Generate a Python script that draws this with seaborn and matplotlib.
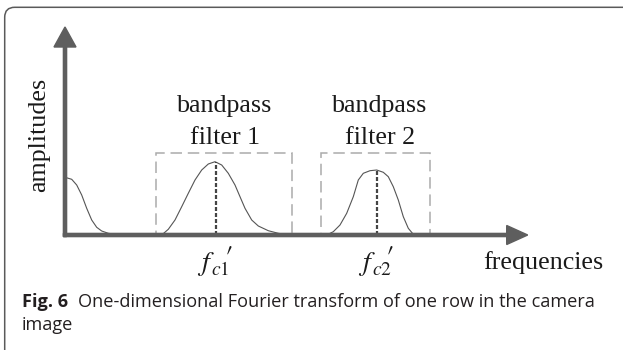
import matplotlib

matplotlib.use("Agg")

import matplotlib.pyplot as plt
import pandas as pd
import seaborn as sns
from matplotlib.patches import FancyBboxPatch, Rectangle
from matplotlib.transforms import IdentityTransform


# spectrum (frequency offset from the amplitude axis, amplitude above baseline)
LOW_FREQ = [0, 6.7, 11.7, 16.7, 21.7, 26.7, 31.7, 36.7, 43.3, 50, 56.7]
LOW_AMP = [57.7, 55.7, 50, 40, 26.7, 15, 7.7, 4, 1.7, 0.7, 0]

PEAK1_FREQ = [96.7, 103.3, 110, 116.7, 123.3, 130, 136.7, 143.3, 150, 156.7,
              163.3, 170, 175, 180, 186.7, 193.3, 203.3, 213.3, 223.3]
PEAK1_AMP = [0, 5.7, 15, 28.3, 41.7, 55, 65, 71, 73.3, 70,
             61.7, 50, 38.3, 26.7, 15, 9, 4.3, 1.7, 0]

PEAK2_FREQ = [261.7, 268.3, 275, 281.7, 288.3, 293.3, 298.3, 305, 311.7,
              318.3, 323.3, 328.3, 333.3, 338.3, 343.3, 348.3, 353.3]
PEAK2_AMP = [0, 3.3, 10, 21.7, 38.3, 55, 61.7, 64.3, 65,
             62.7, 58.3, 48.3, 35, 18.3, 6.7, 0.7, 0]

CENTER_FREQS = [151, 311.7]
CENTER_AMPS = [73.3, 65]
CENTER_SUBS = [r"$c1$", r"$c2$"]

FILTER_LOW = [90.7, 256]
FILTER_HIGH = [227.3, 365]
FILTER_HEIGHT = 81.7
FILTER_LABELS = ["bandpass\nfilter 1", "bandpass\nfilter 2"]
FILTER_LABEL_X = [159.5, 315]

AXIS_GRAY = "#5e5e5e"
TEXT = "#1a1a1a"


def build_spectrum():
    parts = []
    for name, f, a in [("low", LOW_FREQ, LOW_AMP),
                       ("c1", PEAK1_FREQ, PEAK1_AMP),
                       ("c2", PEAK2_FREQ, PEAK2_AMP)]:
        parts.append(pd.DataFrame({"freq": f, "amp": a, "band": name}))
    return pd.concat(parts, ignore_index=True)


def draw(df, output_path="out.png"):
    sns.set_theme(style="white")
    plt.rcParams["font.family"] = ["Liberation Serif", "DejaVu Serif"]
    plt.rcParams["mathtext.fontset"] = "stix"

    fig = plt.figure(figsize=(6.23, 3.5), dpi=100)
    fig.patch.set_facecolor("white")

    # one data unit = one pixel in both directions
    ax = fig.add_axes([65 / 623, 115 / 350, 475 / 623, 215 / 350])

    for lo, hi in zip(FILTER_LOW, FILTER_HIGH):
        ax.add_patch(Rectangle((lo, 0), hi - lo, FILTER_HEIGHT, fill=False,
                               ec="#ababab", lw=1.1, ls=(0, (7.5, 3.8)),
                               zorder=1, clip_on=False))

    sns.lineplot(data=df, x="freq", y="amp", units="band", estimator=None,
                 sort=False, color="#555555", linewidth=0.8, legend=False,
                 ax=ax, zorder=3)
    ax.set_xlim(0, 475)
    ax.set_ylim(0, 215)
    ax.axis("off")

    ax.vlines(CENTER_FREQS, 0, CENTER_AMPS, colors="#444444", lw=1.6,
              linestyles=(0, (1.8, 0.9)), zorder=4)

    ax.arrow(-1.6, 0, 464.3, 0, width=3.2, head_width=19, head_length=21,
             length_includes_head=True, color=AXIS_GRAY, zorder=5, clip_on=False)
    ax.arrow(0, -1.6, 0, 209.6, width=3.2, head_width=22, head_length=20,
             length_includes_head=True, color=AXIS_GRAY, zorder=5, clip_on=False)

    for x, label in zip(FILTER_LABEL_X, FILTER_LABELS):
        top, bottom = label.split("\n")
        ax.text(x, 123.3, top, ha="center", va="baseline", fontsize=18.7, color=TEXT)
        ax.text(x, 91, bottom, ha="center", va="baseline", fontsize=18.7, color=TEXT)

    # f'_c labels set like the equation editor: f, low subscript, prime at the right
    for x, sub in zip(CENTER_FREQS, CENTER_SUBS):
        ax.text(x - 10, -34.5, r"$f$", ha="center", va="baseline",
                fontsize=20, color=TEXT)
        ax.text(x - 5, -40, sub, ha="left", va="baseline",
                fontsize=14, color=TEXT)
        ax.text(x + 12.5, -22.5, r"$\prime$", ha="center", va="center",
                fontsize=22, color=TEXT)

    ax.text(417.7, -34.3, "frequencies", ha="left", va="baseline",
            fontsize=18.7, color=TEXT)
    ax.text(-25.5, 100.5, "amplitudes", ha="center", va="center", rotation=90,
            fontsize=18.7, color=TEXT)

    # panel frame with rounded top-left corner
    frame = FancyBboxPatch((4.7, -40), 700, 382.7,
                           boxstyle="round,pad=0,rounding_size=10",
                           fill=False, ec="#5a5a5a", lw=1.1,
                           transform=IdentityTransform())
    fig.patches.append(frame)

    cap = dict(family=["Open Sans", "DejaVu Sans"], fontsize=13.1, color="#231f20")
    fig.text(21.7 / 623, 1 - 306.7 / 350, "Fig. 6", va="baseline",
             fontweight="bold", **cap)
    fig.text(77.7 / 623, 1 - 306.7 / 350,
             "One-dimensional Fourier transform of one row in the camera",
             va="baseline", **cap)
    fig.text(21.7 / 623, 1 - 330 / 350, "image", va="baseline", **cap)

    fig.savefig(output_path, dpi=100)
    plt.close(fig)


def main():
    df = build_spectrum()
    draw(df)


if __name__ == "__main__":
    main()
